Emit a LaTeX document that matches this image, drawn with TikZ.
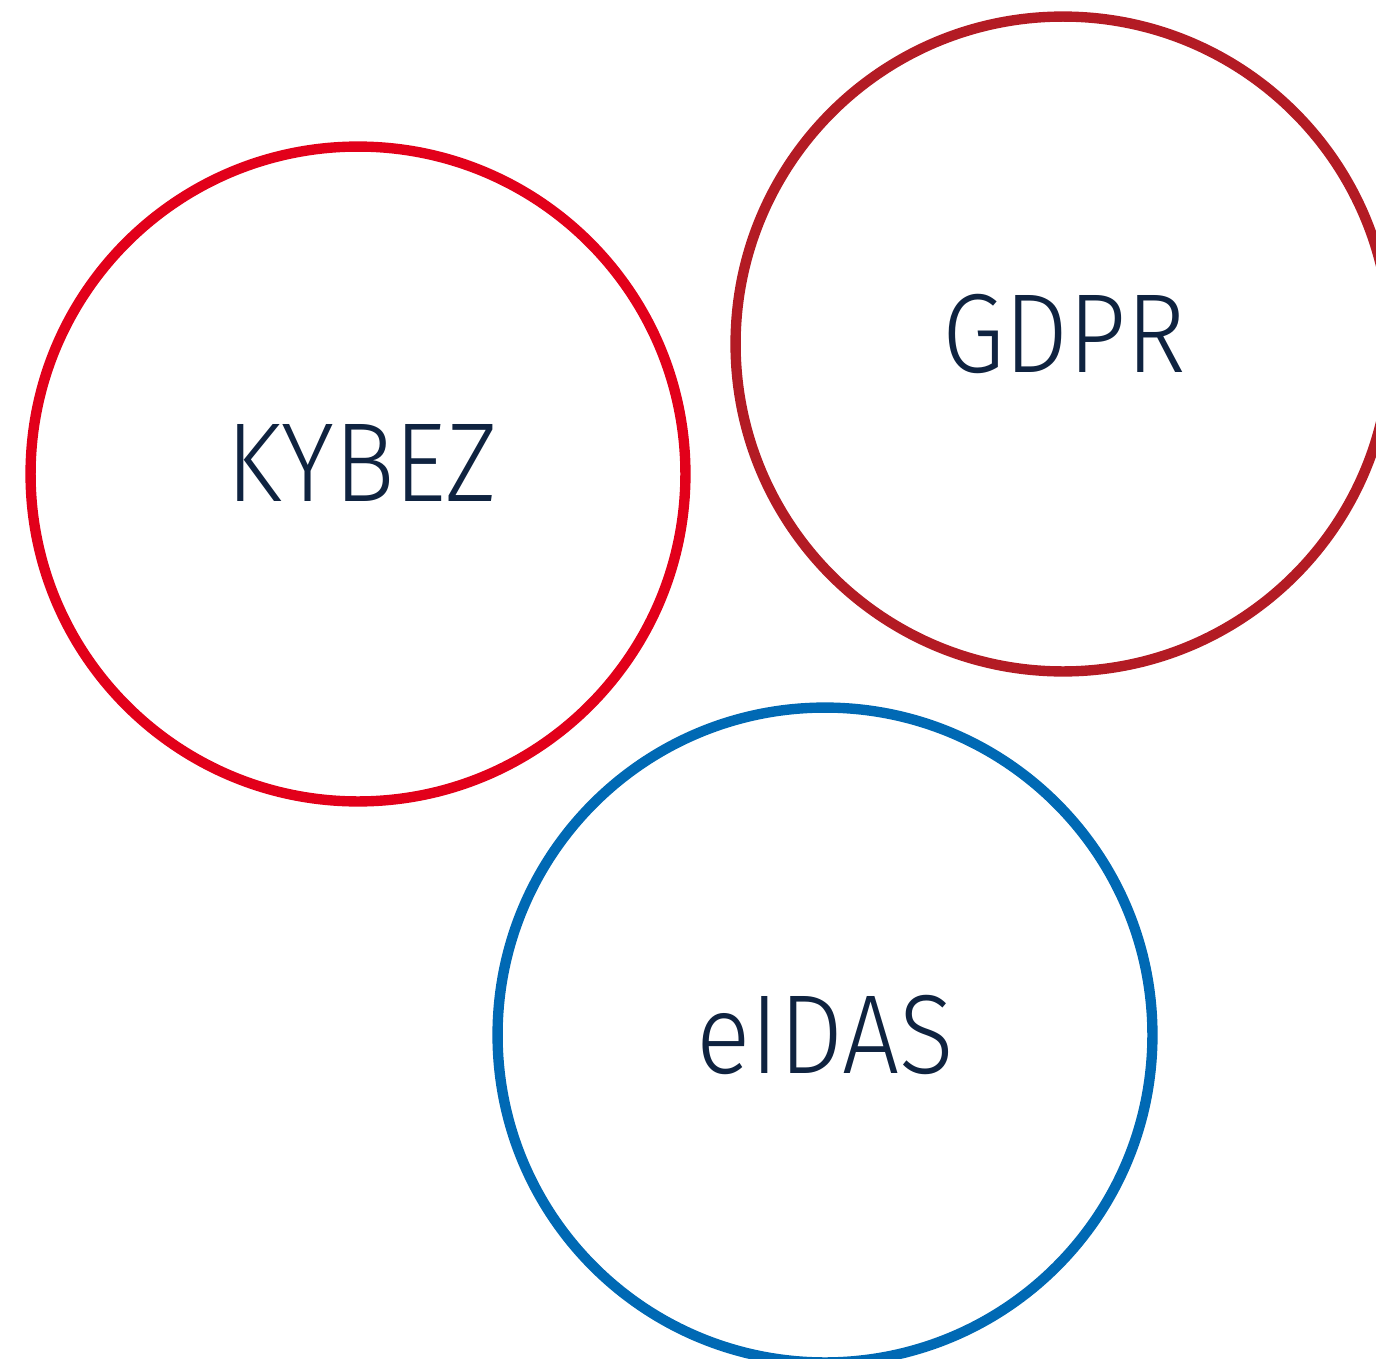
\documentclass[tikz,border=0pt]{standalone}
\usepackage{fontspec}
\setmainfont{Fira Sans}[UprightFont={* Light},FakeStretch=0.9]
\definecolor{kred}{HTML}{E2001A}
\definecolor{gred}{HTML}{B31B24}
\definecolor{eblue}{HTML}{0069B4}
\definecolor{navy}{HTML}{0F2340}
\begin{document}
\begin{tikzpicture}[x=0.02cm,y=-0.02cm,
  ring/.style={circle,draw=#1,line width=5.9pt,minimum size=13.1cm,inner sep=0pt},
  lbl/.style={anchor=base,text=navy,font=\fontsize{64}{70}\selectfont,inner sep=0pt}]
\useasboundingbox (0,0) rectangle (1376,1359);
\node[ring=kred] (kybez) at (358,474) {};
\node[ring=gred] (gdpr) at (1063,344) {};
\node[ring=eblue] (eidas) at (825,1035) {};
\node[lbl] (kybezt) at (362,501) {KYBEZ};
\node[lbl] (gdprt) at (1064,372) {GDPR};
\node[lbl] (eidast) at (825,1073) {eIDAS};
\end{tikzpicture}
\end{document}
